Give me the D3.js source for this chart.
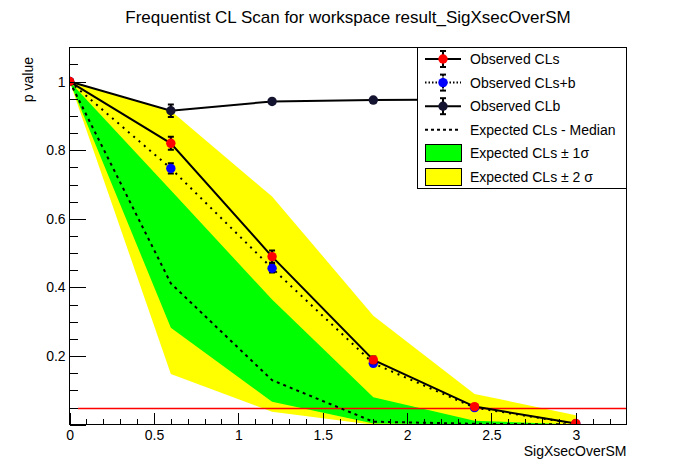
<!DOCTYPE html>
<html>
<head>
<meta charset="utf-8">
<script src="https://cdn.jsdelivr.net/npm/d3@7"></script>
<style>
  body { margin: 0; background: #fff; }
  svg { display: block; font-family: "Liberation Sans", Arial, Helvetica, sans-serif; }
  .tick line { shape-rendering: crispEdges; }
</style>
</head>
<body>
<svg id="chart" width="696" height="472"></svg>
<script>
// scan points (POI values) and p values
var poi        = [0, 0.6, 1.2, 1.8, 2.4, 3.0];
var obsCLs     = [1, 0.820, 0.490, 0.189, 0.053, 0.004];
var obsCLsErr  = [0, 0.019, 0.018, 0.010, 0.005, 0.002];
var obsCLsb    = [1, 0.747, 0.456, 0.179, 0.050, 0.003];
var obsCLsbErr = [0, 0.015, 0.012, 0.006, 0.003, 0.001];
var obsCLb     = [1, 0.915, 0.942, 0.946, 0.948, 0.950];
var obsCLbErr  = [0, 0.018, 0.006, 0.004, 0.003, 0.002];
var expMedian  = [1, 0.412, 0.130, 0.009, 0.003, 0.001];
var exp1Lo     = [1, 0.283, 0.067, 0.004, 0.001, 0];
var exp1Hi     = [1, 0.683, 0.365, 0.080, 0.012, 0.001];
var exp2Lo     = [1, 0.148, 0.038, 0, 0, 0];
var exp2Hi     = [1, 0.915, 0.665, 0.318, 0.090, 0.028];

var clLevel = 0.05, clLineFrom = 0.05;

var xMajor = [0, 0.5, 1, 1.5, 2, 2.5, 3];
var yMajor = [0, 0.2, 0.4, 0.6, 0.8, 1];

var legendItems = [
  {label: "Observed CLs",           kind: "marker", color: "#ff0000", dash: null},
  {label: "Observed CLs+b",         kind: "marker", color: "#0000ff", dash: "1.5,2"},
  {label: "Observed CLb",           kind: "marker", color: "#141430", dash: null},
  {label: "Expected CLs - Median",  kind: "line",   color: "#000",    dash: "3,3"},
  {label: "Expected CLs \u00b1 1\u03c3",  kind: "box", color: "#00ff00"},
  {label: "Expected CLs \u00b1 2 \u03c3", kind: "box", color: "#ffff00"}
];

var W = 696, H = 472;
var fL = 69.6, fR = 626.4, fT = 47.2, fB = 424.8;

var svg = d3.select("#chart");

var x = d3.scaleLinear().domain([0, 3.3]).range([fL, fR]);
var y = d3.scaleLinear().domain([0, 1.1]).range([fB, fT]);

var pts = function(vals) { return poi.map(function(p, i) { return {x: p, y: vals[i]}; }); };

var band = function(lo, hi) {
  return d3.area()
    .x(function(d) { return x(d); })
    .y0(function(d, i) { return y(lo[i]); })
    .y1(function(d, i) { return y(hi[i]); })(poi);
};
var line = d3.line().x(function(d) { return x(d.x); }).y(function(d) { return y(d.y); });

var plot = svg.append("g");
plot.append("clipPath").attr("id", "frameclip")
  .append("rect").attr("x", fL).attr("y", fT).attr("width", fR - fL).attr("height", fB - fT);
var g = plot.append("g").attr("clip-path", "url(#frameclip)");

// expected bands
g.append("path").attr("d", band(exp2Lo, exp2Hi)).attr("fill", "#ffff00");
g.append("path").attr("d", band(exp1Lo, exp1Hi)).attr("fill", "#00ff00");

// CL line
var clY = Math.round(y(clLevel)) + 0.5;
g.append("line")
  .attr("x1", x(clLineFrom)).attr("x2", x(3.3))
  .attr("y1", clY).attr("y2", clY)
  .attr("stroke", "#ff0000").attr("stroke-width", 1.5);

// expected median
g.append("path").attr("d", line(pts(expMedian)))
  .attr("fill", "none").attr("stroke", "#000").attr("stroke-width", 2).attr("stroke-dasharray", "3,4");

function drawGraph(vals, errs, color, dash) {
  var data = pts(vals);
  var p = g.append("path").attr("d", line(data))
    .attr("fill", "none").attr("stroke", "#000").attr("stroke-width", 2);
  if (dash) p.attr("stroke-dasharray", dash);
  var eb = g.append("g").attr("stroke", "#000").attr("stroke-width", 2);
  data.forEach(function(d, i) {
    if (!errs[i]) return;
    var cx = x(d.x), y1 = y(d.y + errs[i]), y2 = y(d.y - errs[i]);
    var v = eb.append("line").attr("x1", cx).attr("x2", cx).attr("y1", y1).attr("y2", y2);
    if (dash) v.attr("stroke-dasharray", "2,1");
    eb.append("line").attr("x1", cx - 3).attr("x2", cx + 3).attr("y1", y1).attr("y2", y1);
    eb.append("line").attr("x1", cx - 3).attr("x2", cx + 3).attr("y1", y2).attr("y2", y2);
  });
  g.append("g").selectAll("circle").data(data).enter().append("circle")
    .attr("cx", function(d) { return x(d.x); })
    .attr("cy", function(d) { return y(d.y); })
    .attr("r", 4.7).attr("fill", color);
}

drawGraph(obsCLsb, obsCLsbErr, "#0000ff", "2,5");
drawGraph(obsCLb, obsCLbErr, "#141430", null);
drawGraph(obsCLs, obsCLsErr, "#ff0000", null);

// axes (ROOT style: ticks inside the frame)
var xMinor = d3.range(0, 34).map(function(i) { return i / 10; }).filter(function(v, i) { return i % 5 !== 0; });
var yMinor = d3.range(0, 23).map(function(i) { return i * 0.05; }).filter(function(v, i) { return i % 4 !== 0; });

var fontSize = 14;
svg.append("g").attr("transform", "translate(0," + fB + ")")
  .call(d3.axisBottom(x).tickValues(xMajor).tickFormat(d3.format("")).tickSizeInner(-11.3).tickSizeOuter(0).tickPadding(5));
svg.append("g").attr("transform", "translate(0," + fB + ")")
  .call(d3.axisBottom(x).tickValues(xMinor).tickFormat("").tickSizeInner(-5.7).tickSizeOuter(0));
svg.append("g").attr("transform", "translate(" + fL + ",0)")
  .call(d3.axisLeft(y).tickValues(yMajor).tickFormat(function(d) { return d === 0 ? "" : d3.format("")(d); })
    .tickSizeInner(-16.7).tickSizeOuter(0).tickPadding(4));
svg.append("g").attr("transform", "translate(" + fL + ",0)")
  .call(d3.axisLeft(y).tickValues(yMinor).tickFormat("").tickSizeInner(-8.4).tickSizeOuter(0));

svg.selectAll(".domain").remove();
svg.selectAll(".tick line").attr("stroke", "#000");
svg.selectAll(".tick text").attr("fill", "#000").style("font-size", fontSize + "px")
  .style("font-family", "'Liberation Sans', Arial, sans-serif");

// frame
svg.append("rect").attr("x", fL).attr("y", fT).attr("width", fR - fL).attr("height", fB - fT)
  .attr("fill", "none").attr("stroke", "#000").attr("stroke-width", 1)
  .style("shape-rendering", "crispEdges");

// titles
svg.append("text").attr("x", W / 2).attr("y", 23).attr("text-anchor", "middle")
  .style("font-size", "17px").text("Frequentist CL Scan for workspace result_SigXsecOverSM");
svg.append("text").attr("x", fR).attr("y", 456).attr("text-anchor", "end")
  .style("font-size", fontSize + "px").text("SigXsecOverSM");
svg.append("text").attr("transform", "translate(33,57) rotate(-90)").attr("text-anchor", "end")
  .style("font-size", fontSize + "px").text("p value");

// legend
var lx1 = 417.6, lx2 = fR, ly1 = fT, ly2 = 188.8;
var rowH = (ly2 - ly1) / legendItems.length;
var leg = svg.append("g");
leg.append("rect").attr("x", lx1).attr("y", ly1).attr("width", lx2 - lx1).attr("height", ly2 - ly1)
  .attr("fill", "#fff").attr("stroke", "#000").attr("stroke-width", 1)
  .style("shape-rendering", "crispEdges");
var sx1 = 425, sx2 = 461, scx = (sx1 + sx2) / 2;
legendItems.forEach(function(it, i) {
  var cy = ly1 + rowH * (i + 0.5);
  if (it.kind === "box") {
    leg.append("rect").attr("x", sx1).attr("y", cy - 8.5).attr("width", sx2 - sx1).attr("height", 17)
      .attr("fill", it.color).attr("stroke", "#000").attr("stroke-width", 1)
      .style("shape-rendering", "crispEdges");
  } else {
    var ln = leg.append("line").attr("x1", sx1).attr("x2", sx2).attr("y1", cy).attr("y2", cy)
      .attr("stroke", "#000").attr("stroke-width", 2);
    if (it.dash) ln.attr("stroke-dasharray", it.dash);
    if (it.kind === "marker") {
      var v = leg.append("line").attr("x1", scx).attr("x2", scx).attr("y1", cy - 8).attr("y2", cy + 8)
        .attr("stroke", "#000").attr("stroke-width", 2);
      if (it.dash) v.attr("stroke-dasharray", "2,1");
      leg.append("line").attr("x1", scx - 3).attr("x2", scx + 3).attr("y1", cy - 8).attr("y2", cy - 8).attr("stroke", "#000").attr("stroke-width", 2);
      leg.append("line").attr("x1", scx - 3).attr("x2", scx + 3).attr("y1", cy + 8).attr("y2", cy + 8).attr("stroke", "#000").attr("stroke-width", 2);
      leg.append("circle").attr("cx", scx).attr("cy", cy).attr("r", 4.7).attr("fill", it.color);
    }
  }
  leg.append("text").attr("x", 470).attr("y", cy).attr("dy", "0.35em")
    .style("font-size", fontSize + "px").text(it.label);
});
</script>
</body>
</html>
